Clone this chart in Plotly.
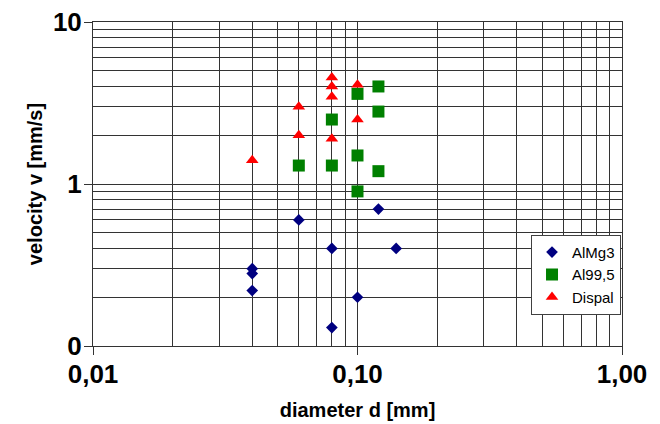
import plotly.graph_objects as go

# Data
almg3_d = [0.04, 0.04, 0.04, 0.06, 0.08, 0.08, 0.10, 0.12, 0.14]
almg3_v = [0.30, 0.28, 0.22, 0.60, 0.40, 0.13, 0.20, 0.70, 0.40]

al995_d = [0.06, 0.08, 0.08, 0.10, 0.10, 0.10, 0.12, 0.12, 0.12]
al995_v = [1.30, 2.50, 1.30, 3.60, 1.50, 0.90, 4.00, 2.80, 1.20]

dispal_d = [0.04, 0.06, 0.06, 0.08, 0.08, 0.08, 0.08, 0.10, 0.10]
dispal_v = [1.40, 3.00, 2.00, 4.55, 4.00, 3.45, 1.90, 4.10, 2.50]

x_tickvals = [0.01, 0.1, 1.0]
x_ticktext = ["0,01", "0,10", "1,00"]
y_tickvals = [0.1, 1, 10]
y_ticktext = ["0", "1", "10"]

FONT = "Liberation Sans"
GRID = "#333333"

fig = go.Figure()
fig.add_trace(go.Scatter(x=almg3_d, y=almg3_v, mode="markers", name="AlMg3",
                         marker=dict(symbol="diamond", size=9, color="#000080")))
fig.add_trace(go.Scatter(x=al995_d, y=al995_v, mode="markers", name="Al99,5",
                         marker=dict(symbol="square", size=12, color="#008000")))
fig.add_trace(go.Scatter(x=dispal_d, y=dispal_v, mode="markers", name="Dispal",
                         marker=dict(symbol="triangle-up", size=11, color="#ff0000")))

fig.update_layout(
    width=660, height=424,
    margin=dict(l=93, r=38, t=22, b=78),
    paper_bgcolor="white", plot_bgcolor="white",
    font=dict(family=FONT, color="black"),
    showlegend=True,
    legend=dict(x=0.828, y=0.343, xanchor="left", yanchor="top",
                bgcolor="white", bordercolor="#404040", borderwidth=1,
                font=dict(family=FONT, size=15, color="black"),
                itemwidth=30, tracegroupgap=0),
)

fig.update_xaxes(
    type="log", range=[-2, 0], automargin=False,
    tickvals=x_tickvals, ticktext=x_ticktext,
    tickfont=dict(family=FONT, size=26, color="black", weight="bold"),
    ticks="outside", ticklen=8, tickcolor=GRID, ticklabelstandoff=-3,
    showgrid=True, gridcolor=GRID, gridwidth=1,
    minor=dict(dtick="D1", showgrid=True, gridcolor=GRID, gridwidth=1, ticks=""),
    showline=True, linecolor=GRID, linewidth=1, mirror=True,
    zeroline=False,
    title=dict(text="diameter d [mm]", standoff=14,
               font=dict(family=FONT, size=20, color="black", weight="bold")),
)
fig.update_yaxes(
    type="log", range=[-1, 1], automargin=False,
    tickvals=y_tickvals, ticktext=y_ticktext,
    tickfont=dict(family=FONT, size=26, color="black", weight="bold"),
    ticks="outside", ticklen=8, tickcolor=GRID, ticklabelstandoff=-3,
    showgrid=True, gridcolor=GRID, gridwidth=1,
    minor=dict(dtick="D1", showgrid=True, gridcolor=GRID, gridwidth=1, ticks=""),
    showline=True, linecolor=GRID, linewidth=1, mirror=True,
    zeroline=False,
    title=dict(text="velocity v [mm/s]", standoff=4,
               font=dict(family=FONT, size=20, color="black", weight="bold")),
)

fig.write_html("out.html")
